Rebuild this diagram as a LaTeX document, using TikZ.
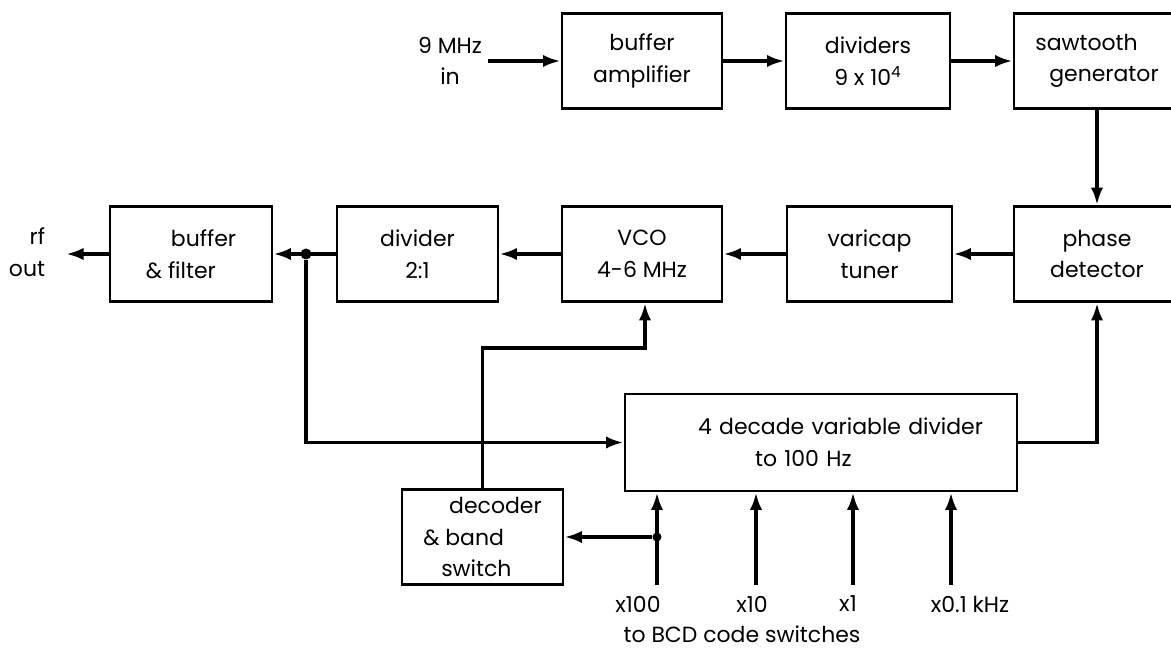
\documentclass[tikz,border=0pt]{standalone}
\usepackage{fontspec}
\setmainfont{Poppins}
\usetikzlibrary{arrows.meta}

\begin{document}
\begin{tikzpicture}[x=0.02cm, y=-0.02cm, font=\fontsize{12.5}{18}\selectfont, box/.style={draw, line width=1.6pt, align=center, minimum height=1.9cm, inner sep=2pt}, arrow/.style={-{Latex[length=10pt,width=7pt]}, line width=2.2pt}, dot/.style={circle, fill, inner sep=0pt, minimum size=0.22cm}]
\useasboundingbox (0,0) rectangle (1171,648);
\node[align=center] (in9) at (450,61) {9 MHz\\in};
\node[box, minimum width=3.2cm] (bufamp) at (642,61) {buffer\\amplifier};
\node[box, minimum width=3.28cm] (dividers) at (868,61) {dividers\\9 x 10\textsuperscript{4}};
\node[box, minimum width=3.32cm, align=left] (saw) at (1097,61) {sawtooth\\\hspace*{0.28cm}generator};
\node[box, minimum width=3.32cm] (phase) at (1097,254) {phase\\detector};
\node[box, minimum width=3.3cm] (varicap) at (869.5,254) {varicap\\tuner};
\node[box, minimum width=3.2cm] (vco) at (642,254) {VCO\\4-6 MHz};
\node[box, minimum width=3.22cm] (div2) at (417.5,254) {divider\\2:1};
\node[box, minimum width=3.24cm, align=left] (buffil) at (191,254) {\hspace*{0.5cm}buffer\\\& filter};
\node[align=right] (rfout) at (27,252) {rf\\out};
\coordinate (rfo) at (66,254);
\node[box, minimum width=7.84cm, minimum height=1.94cm, text width=7.6cm, align=left] (decade) at (821,442.5) {\mbox{\hspace*{1.34cm}4 decade variable divider}\\\hspace*{2.48cm}to 100 Hz};
\node[box, minimum width=3.22cm, align=left] (decoder) at (482.5,537) {\hspace*{0.52cm}decoder\\\& band\\\hspace*{0.36cm}switch};
\node (lx100) at (638,604) {x100};
\node (lx10) at (752,604) {x10};
\node (lx1) at (848,604) {x1};
\node (lx01) at (970,604) {x0.1 kHz};
\node (bcd) at (742,634) {to BCD code switches};
\draw[arrow] (in9) -- (bufamp); \draw[arrow] (bufamp) -- (dividers); \draw[arrow] (dividers) -- (saw);
\draw[arrow] (saw) -- (phase); \draw[arrow] (phase) -- (varicap); \draw[arrow] (varicap) -- (vco);
\draw[arrow] (vco) -- (div2); \draw[arrow] (div2) -- (buffil); \draw[arrow] (buffil) -- (rfo);
\node[dot] (j1) at (306,254) {};
\draw[arrow] (j1) |- (decade);
\draw[arrow] (decade) -| (phase);
\coordinate (knee) at (645,348);
\draw[arrow] (decoder) |- (knee) -- (knee |- vco.south);
\coordinate (s1) at (657,585); \coordinate (s2) at (756,585); \coordinate (s3) at (853,585); \coordinate (s4) at (951,585);
\draw[arrow] (s1) -- (s1 |- decade.south); \draw[arrow] (s2) -- (s2 |- decade.south);
\draw[arrow] (s3) -- (s3 |- decade.south); \draw[arrow] (s4) -- (s4 |- decade.south);
\node[dot, minimum size=0.18cm] (j2) at (657,537) {};
\draw[arrow] (j2) -- (decoder);
\end{tikzpicture}
\end{document}
